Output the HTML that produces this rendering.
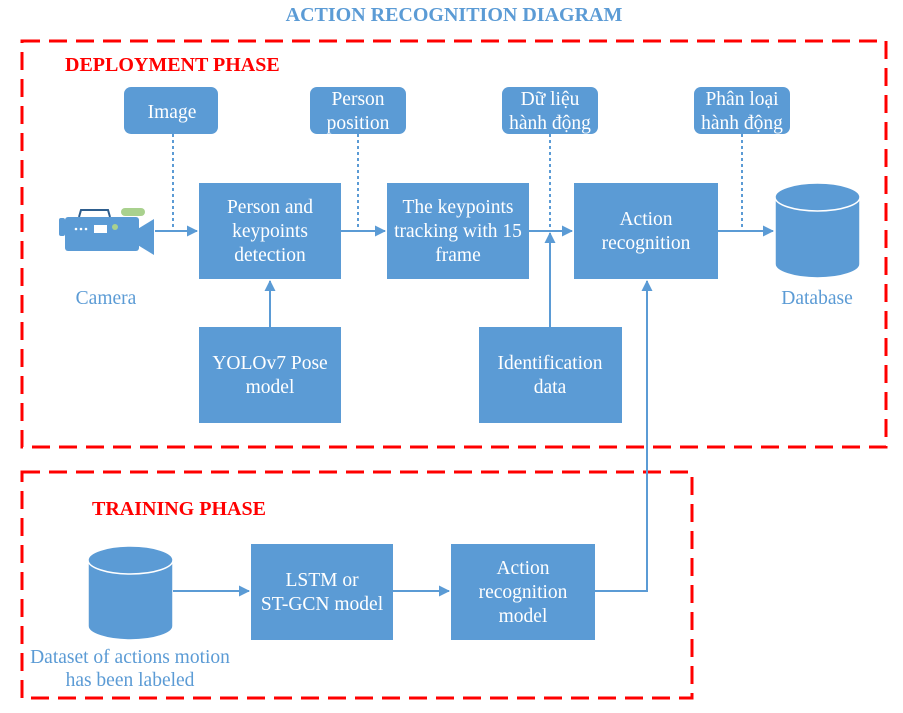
<!DOCTYPE html>
<html><head><meta charset="utf-8"><style>
html,body{margin:0;padding:0;background:#fff;}
svg{display:block;}
text{font-family:"Liberation Serif",serif;}
</style></head><body>
<svg width="903" height="713" viewBox="0 0 903 713" xmlns="http://www.w3.org/2000/svg">
<defs>
<marker id="ah" markerWidth="11" markerHeight="11" refX="10" refY="5.5" orient="auto" markerUnits="userSpaceOnUse">
<path d="M0,0 L11,5.5 L0,11 z" fill="#5b9bd5"/></marker>
</defs>
<text x="454" y="21" text-anchor="middle" font-size="20" font-weight="bold" fill="#5b9bd5">ACTION RECOGNITION DIAGRAM</text>

<rect x="22" y="41" width="864" height="406" fill="none" stroke="#f00" stroke-width="3" stroke-dasharray="18,9"/>
<text x="65" y="71" font-size="20" font-weight="bold" fill="#f00">DEPLOYMENT PHASE</text>
<rect x="22" y="472" width="670" height="226" fill="none" stroke="#f00" stroke-width="3" stroke-dasharray="18,9"/>
<text x="92" y="515" font-size="20" font-weight="bold" fill="#f00">TRAINING PHASE</text>

<g fill="#5b9bd5">
<rect x="124" y="87" width="94" height="47" rx="7"/>
<rect x="310" y="87" width="96" height="47" rx="7"/>
<rect x="502" y="87" width="96" height="47" rx="7"/>
<rect x="694" y="87" width="96" height="47" rx="7"/>
<rect x="199" y="183" width="142" height="96"/>
<rect x="387" y="183" width="142" height="96"/>
<rect x="574" y="183" width="144" height="96"/>
<rect x="199" y="327" width="142" height="96"/>
<rect x="479" y="327" width="143" height="96"/>
<rect x="251" y="544" width="142" height="96"/>
<rect x="451" y="544" width="144" height="96"/>
</g>

<g fill="#5b9bd5" stroke="#fff" stroke-width="1.5">
<path d="M775,197 L775,264 A42.5,14 0 0 0 860,264 L860,197"/>
<ellipse cx="817.5" cy="197" rx="42.5" ry="14"/>
<path d="M88,560 L88,626 A42.5,14 0 0 0 173,626 L173,560"/>
<ellipse cx="130.5" cy="560" rx="42.5" ry="14"/>
</g>

<g>
<path d="M79,217 L81,210 L108,210 L110,217" fill="none" stroke="#2e5e8e" stroke-width="2"/>
<rect x="121" y="208" width="24" height="8" rx="4" fill="#a9d18e"/>
<rect x="59" y="218" width="6" height="18" rx="2" fill="#5b9bd5"/>
<rect x="65" y="217" width="74" height="34" rx="3" fill="#5b9bd5"/>
<path d="M136,230 L154,219 L154,255 L136,244 z" fill="#5b9bd5"/>
<rect x="94" y="225" width="13" height="8" fill="#fff"/>
<circle cx="76" cy="229" r="1.3" fill="#fff"/><circle cx="81" cy="229" r="1.3" fill="#fff"/><circle cx="86" cy="229" r="1.3" fill="#fff"/>
<circle cx="115" cy="227" r="3" fill="#a9d18e"/>
</g>

<g stroke="#5b9bd5" stroke-width="2" fill="none">
<line x1="155" y1="231" x2="197" y2="231" marker-end="url(#ah)"/>
<line x1="341" y1="231" x2="385" y2="231" marker-end="url(#ah)"/>
<line x1="529" y1="231" x2="572" y2="231" marker-end="url(#ah)"/>
<line x1="718" y1="231" x2="773" y2="231" marker-end="url(#ah)"/>
<line x1="270" y1="327" x2="270" y2="281" marker-end="url(#ah)"/>
<line x1="550" y1="327" x2="550" y2="233" marker-end="url(#ah)"/>
<line x1="173" y1="591" x2="249" y2="591" marker-end="url(#ah)"/>
<line x1="393" y1="591" x2="449" y2="591" marker-end="url(#ah)"/>
<polyline points="595,591 647,591 647,281" marker-end="url(#ah)"/>
</g>
<g stroke="#5b9bd5" stroke-width="2" fill="none" stroke-dasharray="3,3">
<line x1="173" y1="134" x2="173" y2="231"/>
<line x1="358" y1="134" x2="358" y2="231"/>
<line x1="550" y1="134" x2="550" y2="231"/>
<line x1="742" y1="134" x2="742" y2="231"/>
</g>

<g fill="#fff" font-size="19.5" text-anchor="middle">
<text x="172" y="118">Image</text>
<text x="358" y="105">Person</text><text x="358" y="129">position</text>
<text x="550" y="105">Dữ liệu</text><text x="550" y="129">hành động</text>
<text x="742" y="105">Phân loại</text><text x="742" y="129">hành động</text>
<text x="270" y="213">Person and</text><text x="270" y="237">keypoints</text><text x="270" y="261">detection</text>
<text x="458" y="213">The keypoints</text><text x="458" y="237">tracking with 15</text><text x="458" y="261">frame</text>
<text x="646" y="225">Action</text><text x="646" y="249">recognition</text>
<text x="270" y="369">YOLOv7 Pose</text><text x="270" y="393">model</text>
<text x="550" y="369">Identification</text><text x="550" y="393">data</text>
<text x="322" y="586">LSTM or</text><text x="322" y="610">ST-GCN model</text>
<text x="523" y="574">Action</text><text x="523" y="598">recognition</text><text x="523" y="622">model</text>
</g>
<g fill="#5b9bd5" font-size="19.5" text-anchor="middle">
<text x="106" y="304">Camera</text>
<text x="817" y="304">Database</text>
<text x="130" y="663">Dataset of actions motion</text>
<text x="130" y="686">has been labeled</text>
</g>
</svg>
</body></html>
